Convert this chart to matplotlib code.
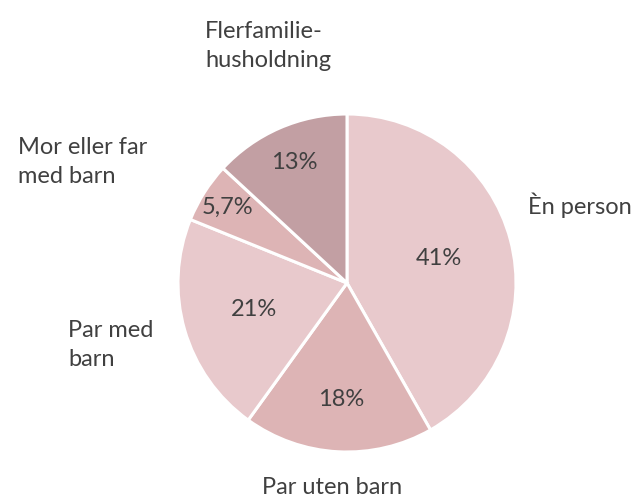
import matplotlib
matplotlib.use("Agg")
import matplotlib.pyplot as plt
import numpy as np

categories = ["Èn person", "Par uten barn", "Par med\nbarn", "Mor eller far\nmed barn", "Flerfamilie-\nhusholdning"]
values = [41.4, 18.0, 21.0, 5.7, 13.0]
pct_labels = ["41%", "18%", "21%", "5,7%", "13%"]
colors = ["#E8C9CC", "#DDB4B5", "#E8C9CC", "#DDB4B5", "#C29FA3"]

W, H = 640, 497
fig = plt.figure(figsize=(W / 100, H / 100), dpi=100)
ax = fig.add_axes([0, 0, 1, 1])

cx, cy, r = 347, H - 283, 169
wedges, _ = ax.pie(values, colors=colors, startangle=90, counterclock=False,
                   center=(cx, cy), radius=r, frame=True,
                   wedgeprops=dict(edgecolor="white", linewidth=2.2))
ax.set_xlim(0, W)
ax.set_ylim(0, H)
ax.set_aspect("equal")
ax.axis("off")

font = "Lato"
tcol = "#404040"
fs = 17
dists = [0.56, 0.69, 0.57, 0.84, 0.78]
for w, lab, d in zip(wedges, pct_labels, dists):
    ang = np.deg2rad((w.theta1 + w.theta2) / 2)
    ax.text(cx + d * r * np.cos(ang), cy + d * r * np.sin(ang), lab,
            ha="center", va="center", fontsize=fs, color=tcol, family=font)

outer_pos = [(528, 205), (262, 487), (68, 345), (18, 162), (205, 46)]
for lab, (x, y) in zip(categories, outer_pos):
    ax.text(x, H - y, lab, ha="left", va="center", fontsize=fs, color=tcol,
            family=font, linespacing=1.45)

fig.savefig("out.png", dpi=100, facecolor="white")
